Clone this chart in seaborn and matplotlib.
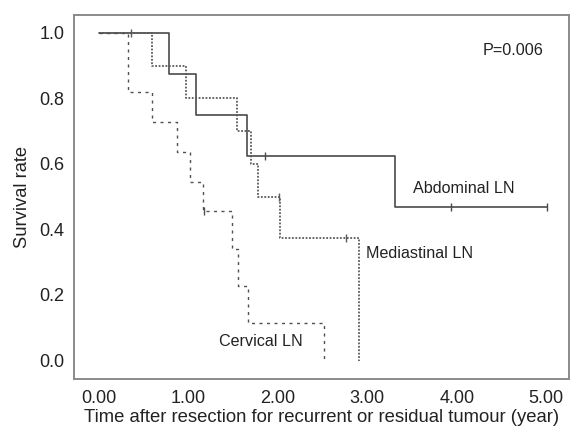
import numpy as np
import pandas as pd
import matplotlib
matplotlib.use("Agg")
import matplotlib.pyplot as plt
import seaborn as sns

# ---- data ----
abd_times = [0.0, 0.79, 1.09, 1.66, 3.31, 5.01]
abd_surv = [1.0, 0.875, 0.75, 0.625, 0.469, 0.469]
abd_cens_t = [1.86, 3.94, 5.01]
abd_cens_s = [0.625, 0.469, 0.469]

med_times = [0.0, 0.59, 0.97, 1.55, 1.70, 1.78, 2.03, 2.91]
med_surv = [1.0, 0.9, 0.8, 0.7, 0.6, 0.5, 0.375, 0.0]
med_cens_t = [0.36, 2.02, 2.76]
med_cens_s = [1.0, 0.5, 0.375]

cerv_times = [0.0, 0.33, 0.60, 0.87, 1.02, 1.16, 1.49, 1.56, 1.67, 2.52]
cerv_surv = [1.0, 0.818, 0.727, 0.636, 0.545, 0.455, 0.341, 0.227, 0.114, 0.0]
cerv_cens_t = [1.18]
cerv_cens_s = [0.455]

group_names = ["Abdominal LN", "Mediastinal LN", "Cervical LN"]
x_ticks = [0, 1, 2, 3, 4, 5]
x_tick_labels = ["0.00", "1.00", "2.00", "3.00", "4.00", "5.00"]
y_ticks = [0.0, 0.2, 0.4, 0.6, 0.8, 1.0]
y_tick_labels = ["0.0", "0.2", "0.4", "0.6", "0.8", "1.0"]
p_text = "P=0.006"

sns.set_theme(style="white")
plt.rcParams["font.family"] = ["Liberation Sans", "DejaVu Sans"]

fig = plt.figure(figsize=(5.71, 4.33), dpi=100)
ax = fig.add_axes([0.129, 0.125, 0.997 - 0.129, 0.965 - 0.125])

curves = [
    (abd_times, abd_surv, abd_cens_t, abd_cens_s, "#4a4a4a", None, 1.2),
    (med_times, med_surv, med_cens_t, med_cens_s, "#5a5a5a", (1.0, 0.9), 1.3),
    (cerv_times, cerv_surv, cerv_cens_t, cerv_cens_s, "#505050", (2.2, 3.2), 1.0),
]

for name, (t, s, ct, cs, col, dash, lw) in zip(group_names, curves):
    df = pd.DataFrame({"time": t, "surv": s})
    line_ax = sns.lineplot(data=df, x="time", y="surv", ax=ax, color=col,
                           drawstyle="steps-post", estimator=None, sort=False,
                           linewidth=lw)
    ln = line_ax.lines[-1]
    if dash is not None:
        ln.set_dashes(dash)
    cdf = pd.DataFrame({"time": ct, "surv": cs})
    sns.scatterplot(data=cdf, x="time", y="surv", ax=ax, marker="|", s=40,
                    color=col, linewidth=1.0)

ax.set_xlim(-0.28, 5.258)
ax.set_ylim(-0.056, 1.054)
ax.set_xticks(x_ticks)
ax.set_xticklabels(x_tick_labels)
ax.set_yticks(y_ticks)
ax.set_yticklabels(y_tick_labels)
ax.tick_params(axis="both", which="major", direction="out", length=4.5,
               width=1.0, color="#777777", labelsize=13, labelcolor="#222222",
               pad=2.0)
ax.tick_params(axis="x", pad=3.5)
for sp in ax.spines.values():
    sp.set_color("#8a8a8a")
    sp.set_linewidth(1.4)

ax.set_xlabel("Time after resection for recurrent or residual tumour (year)",
              fontsize=13.3, color="#222222", labelpad=1.5)
ax.set_ylabel("Survival rate", fontsize=13.2, color="#222222", labelpad=6)

ax.text(3.51, 0.526, group_names[0], fontsize=11.6, color="#222222", va="center")
ax.text(2.99, 0.328, group_names[1], fontsize=11.6, color="#222222", va="center")
ax.text(1.345, 0.058, group_names[2], fontsize=11.6, color="#222222", va="center")
ax.text(4.29, 0.945, p_text, fontsize=11.6, color="#222222", va="center")

fig.savefig("out.png", dpi=100)
